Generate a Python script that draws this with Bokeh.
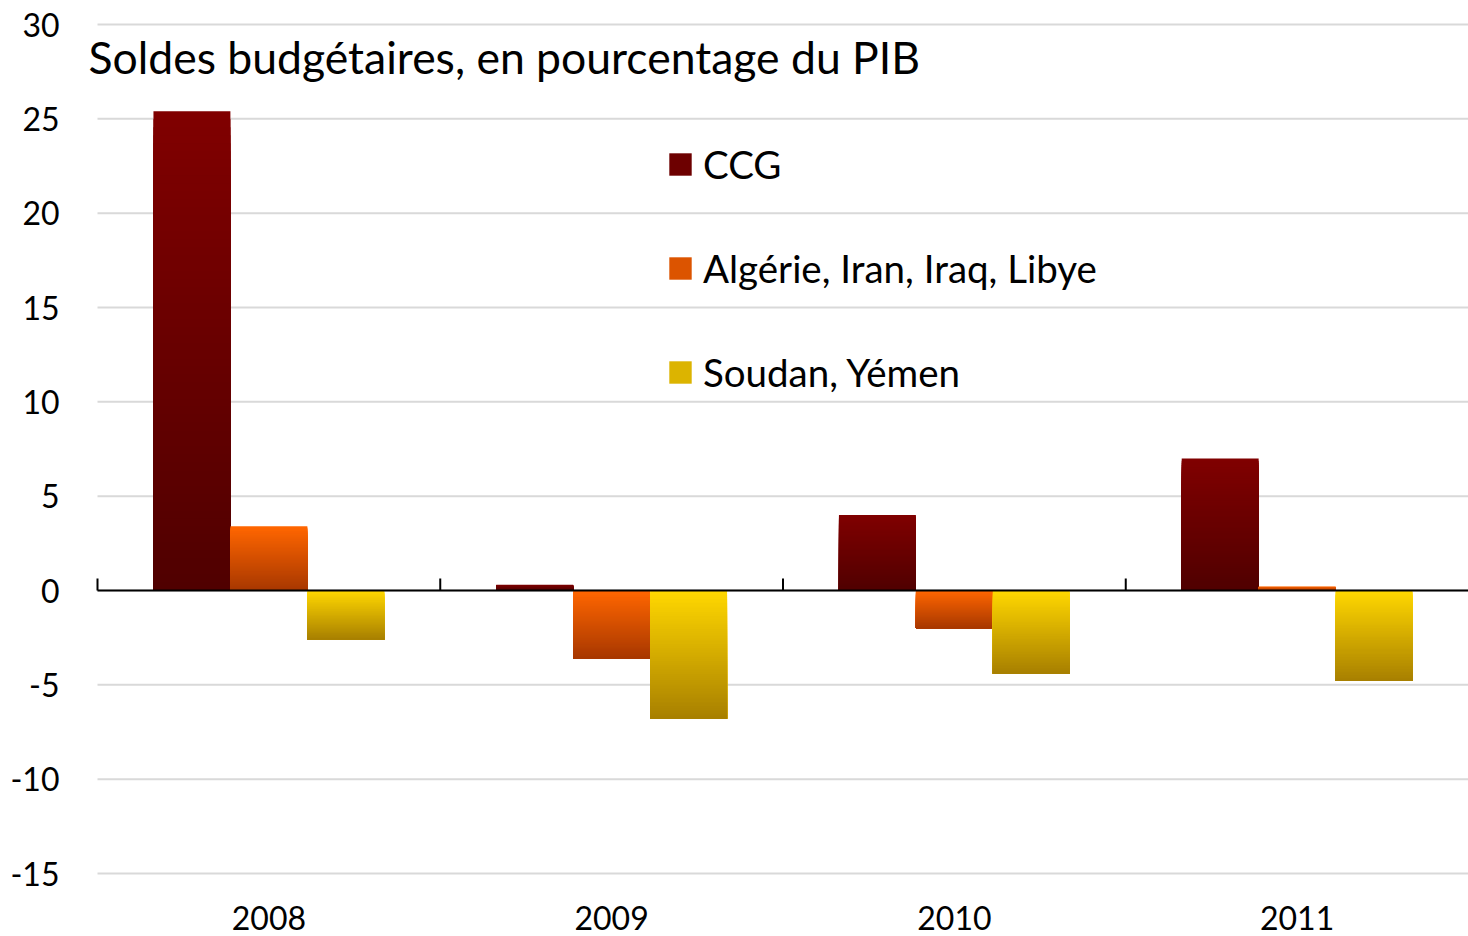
from bokeh.plotting import figure
from bokeh.models import Range1d, FixedTicker, Label, Legend, LegendItem
from bokeh.core.properties import value
from bokeh.embed import file_html
from bokeh.resources import INLINE

# ---- data ----
years = ["2008", "2009", "2010", "2011"]
series_names = ["CCG", "Algérie, Iran, Iraq, Libye", "Soudan, Yémen"]
ccg = [25.4, 0.3, 4.0, 7.0]
aiil = [3.4, -3.6, -2.0, 0.2]
soudan = [-2.6, -6.8, -4.4, -4.8]
y_ticks = [-15, -10, -5, 0, 5, 10, 15, 20, 25, 30]
y_tick_labels = ["-15", "-10", "-5", "0", "5", "10", "15", "20", "25", "30"]
title_text = "Soldes budgétaires, en pourcentage du PIB"

# ---- style ----
FONT = "Lato"
top_colors = [(128, 0, 0), (255, 102, 0), (255, 215, 0)]
bot_colors = [(80, 0, 0), (168, 56, 0), (168, 128, 0)]
bar_w = 0.2245
offsets = [-bar_w, 0.0, bar_w]
N_SLICES = 60
PX_PER_UNIT = 849 / 45.0
PX_PER_GROUP = 342.75
x_lo, x_hi = -0.5, len(years) - 0.5

p = figure(width=1468, height=936, output_backend="svg", toolbar_location=None,
           x_range=Range1d(x_lo - 17 / PX_PER_GROUP, x_hi),
           y_range=Range1d(-15 - 63 / PX_PER_UNIT, 30 + 12 / PX_PER_UNIT),
           min_border_left=80, min_border_right=0, min_border_top=12, min_border_bottom=0)
p.outline_line_color = None
p.background_fill_color = "white"
p.border_fill_color = "white"

def hexc(c):
    return "#%02x%02x%02x" % tuple(int(round(v)) for v in c)

# horizontal gridlines
p.segment(x0=[x_lo] * len(y_ticks), x1=[x_hi] * len(y_ticks), y0=y_ticks, y1=y_ticks,
          line_color="#d9d9d9", line_width=2)

legend_items = []
for s, vals in enumerate([ccg, aiil, soudan]):
    left, right, top, bottom, colors = [], [], [], [], []
    for i, v in enumerate(vals):
        hi, lo = max(v, 0.0), min(v, 0.0)
        for k in range(N_SLICES):
            t = k / (N_SLICES - 1)
            c = [top_colors[s][j] + (bot_colors[s][j] - top_colors[s][j]) * t for j in range(3)]
            left.append(i + offsets[s] - bar_w / 2)
            right.append(i + offsets[s] + bar_w / 2)
            top.append(hi - (hi - lo) * k / N_SLICES)
            bottom.append(lo)
            colors.append(hexc(c))
    p.quad(left=left, right=right, top=top, bottom=bottom, fill_color=colors, line_color=None)
    mid = [(top_colors[s][j] * 0.6 + bot_colors[s][j] * 0.4) for j in range(3)]
    r = p.quad(left=[0], right=[0], top=[0], bottom=[0], fill_color=hexc(mid), line_color=None)
    legend_items.append(LegendItem(label=series_names[s], renderers=[r]))

# zero line and category boundary ticks
p.segment(x0=[x_lo], x1=[x_hi], y0=[0], y1=[0], line_color="black", line_width=2)
bounds = [i - 0.5 for i in range(len(years))]
p.segment(x0=bounds, y0=[0] * len(bounds), x1=bounds, y1=[12 / PX_PER_UNIT] * len(bounds),
          line_color="black", line_width=2)

# category labels at the bottom
p.text(x=list(range(len(years))), y=[-15 - 44 / PX_PER_UNIT] * len(years), text=years,
       text_font=value(FONT), text_font_size="32px", text_color="black",
       text_align="center", text_baseline="middle")

# axes
p.xaxis.visible = False
p.yaxis.ticker = FixedTicker(ticks=y_ticks)
p.yaxis.major_label_overrides = {t: l for t, l in zip(y_ticks, y_tick_labels)}
p.yaxis.axis_line_color = None
p.yaxis.major_tick_line_color = None
p.yaxis.minor_tick_line_color = None
p.yaxis.major_label_standoff = 15
p.yaxis.major_label_text_font = FONT
p.yaxis.major_label_text_font_size = "32px"
p.yaxis.major_label_text_color = "black"

p.xgrid.grid_line_color = None
p.ygrid.grid_line_color = None

p.add_layout(Label(x=x_lo - 9 / PX_PER_GROUP, y=30 - 32 / PX_PER_UNIT, text=title_text,
                   text_font=FONT, text_font_size="44.5px", text_color="black",
                   text_baseline="middle", text_align="left"))

legend = Legend(items=legend_items, location=(586, 541), orientation="vertical",
                glyph_width=28, glyph_height=28, label_standoff=9, spacing=58,
                padding=0, margin=0, border_line_color=None, background_fill_alpha=0,
                label_text_font=FONT, label_text_font_size="38.5px", label_text_color="black")
p.add_layout(legend)

open("out.html", "w").write(file_html(p, INLINE))
